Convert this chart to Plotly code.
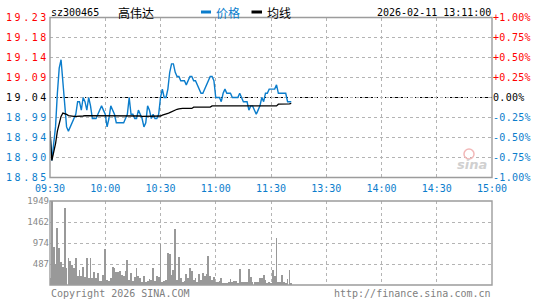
import plotly.graph_objects as go

prev_close = 19.04
code = "sz300465"
name = "高伟达"
stamp = "2026-02-11 13:11:00"
time_ticks = [0, 30, 60, 90, 120, 150, 180, 210, 240]
time_labels = ["09:30", "10:00", "10:30", "11:00", "11:30", "13:30", "14:00", "14:30", "15:00"]
pct_steps = [-1.0, -0.75, -0.5, -0.25, 0.0, 0.25, 0.5, 0.75, 1.0]
vol_ticks = [487.25, 974.5, 1461.75, 1949]
vol_labels = ["487", "974", "1462", "1949"]

price = [18.96, 18.89, 18.93, 18.97, 19.05, 19.11, 19.13, 19.08, 19.01, 18.97,
         18.96, 18.97, 18.98, 18.99, 19.00, 19.03, 19.03, 19.01, 19.04, 19.03,
         19.01, 19.04, 19.02, 18.99, 18.99, 18.99, 19.00, 19.01, 19.02, 19.01,
         19.00, 18.97, 18.99, 19.02, 19.01, 19.00, 18.98, 18.98, 18.98, 18.98,
         18.98, 18.99, 19.00, 19.04, 19.00, 19.00, 18.99, 18.99, 19.01, 19.00,
         18.99, 18.97, 18.98, 19.02, 19.01, 18.99, 19.00, 18.99, 18.99, 19.00,
         19.04, 19.06, 19.04, 19.04, 19.06, 19.10, 19.12, 19.12, 19.10, 19.09,
         19.09, 19.08, 19.08, 19.08, 19.07, 19.08, 19.09, 19.09, 19.08, 19.08,
         19.07, 19.06, 19.05, 19.05, 19.06, 19.07, 19.08, 19.09, 19.09, 19.08,
         19.04, 19.04, 19.04, 19.03, 19.05, 19.06, 19.05, 19.05, 19.05, 19.04,
         19.04, 19.04, 19.04, 19.05, 19.04, 19.03, 19.03, 19.03, 19.01, 19.02,
         19.02, 19.01, 19.00, 19.01, 19.02, 19.04, 19.03, 19.05, 19.05, 19.06,
         19.06, 19.06, 19.06, 19.07, 19.05, 19.05, 19.05, 19.05, 19.05, 19.03,
         19.03, 19.03]

avg = [18.960, 18.890, 18.910, 18.930, 18.960, 18.980, 18.995, 19.003, 19.002, 19.000,
       18.997, 18.996, 18.995, 18.995, 18.995, 18.995, 18.996, 18.996, 18.996, 18.997,
       18.997, 18.997, 18.997, 18.997, 18.997, 18.997, 18.997, 18.997, 18.997, 18.997,
       18.997, 18.997, 18.997, 18.997, 18.997, 18.997, 18.997, 18.997, 18.997, 18.997,
       18.996, 18.996, 18.996, 18.996, 18.996, 18.996, 18.996, 18.996, 18.996, 18.996,
       18.995, 18.995, 18.995, 18.995, 18.995, 18.995, 18.995, 18.995, 18.995, 18.995,
       18.996, 18.998, 18.999, 19.000, 19.002, 19.004, 19.006, 19.009, 19.010, 19.012,
       19.013, 19.014, 19.014, 19.014, 19.014, 19.014, 19.014, 19.014, 19.017, 19.017,
       19.017, 19.017, 19.017, 19.017, 19.017, 19.017, 19.017, 19.017, 19.020, 19.020,
       19.020, 19.020, 19.020, 19.020, 19.020, 19.020, 19.020, 19.020, 19.020, 19.020,
       19.020, 19.020, 19.020, 19.020, 19.020, 19.020, 19.020, 19.020, 19.020, 19.020,
       19.020, 19.020, 19.020, 19.020, 19.020, 19.020, 19.020, 19.020, 19.020, 19.020,
       19.020, 19.020, 19.020, 19.020, 19.024, 19.024, 19.024, 19.024, 19.024, 19.024,
       19.025, 19.026]

volume = [155, 1949, 889, 487, 1315, 866, 541, 425, 1794, 387,
          619, 565, 464, 387, 619, 217, 348, 217, 425, 186,
          619, 155, 619, 155, 309, 155, 271, 93, 93, 232,
          835, 116, 93, 155, 425, 402, 309, 294, 325, 232,
          217, 325, 580, 116, 271, 93, 193, 387, 209, 170,
          77, 201, 62, 93, 131, 116, 387, 93, 209, 193,
          951, 62, 93, 116, 735, 712, 232, 348, 1299, 116,
          642, 155, 62, 101, 247, 155, 387, 325, 116, 155,
          62, 255, 116, 271, 209, 255, 673, 209, 116, 193,
          77, 62, 93, 155, 31, 39, 31, 62, 131, 77,
          93, 93, 46, 371, 62, 62, 62, 62, 371, 193,
          62, 77, 77, 62, 155, 155, 232, 116, 46, 62,
          39, 348, 209, 1098, 62, 77, 232, 62, 54, 139,
          348, 31]

BLUE = "#0b7dcc"
RED = "#ff0000"
GRID = "#b4b4b4"
FRAME = "#9c9c9c"
MONO = "DejaVu Sans Mono"
W, H = 545, 300
L, R = 50 / W, 492 / W
P_TOP, P_BOT = 17.5, 177.5
V_TOP, V_BOT = 201, 285

t = list(range(len(price)))
lo, hi = prev_close * 0.99, prev_close * 1.01
price_ticks = [prev_close * (1 + s / 100) for s in pct_steps]


def col(s):
    return RED if s > 0 else ("#000000" if s == 0 else BLUE)


left_text = ['<span style="fill:%s;letter-spacing:2.6px">%.2f</span>' % (col(s), v)
             for s, v in zip(pct_steps, price_ticks)]
right_text = []
for s in pct_steps:
    lab = "%+.2f%%" % s if s != 0 else "0.00%"
    right_text.append('<span style="fill:%s;letter-spacing:0.3px">%s</span>' % (col(s), lab))

fig = go.Figure()
fig.add_trace(go.Scatter(x=t, y=price, mode="lines", line=dict(color=BLUE, width=1.4),
                         xaxis="x", yaxis="y", hoverinfo="skip", showlegend=False))
fig.add_trace(go.Scatter(x=t, y=avg, mode="lines", line=dict(color="#000000", width=1.3),
                         xaxis="x", yaxis="y", hoverinfo="skip", showlegend=False))
fig.add_trace(go.Scatter(x=t, y=[(p / prev_close - 1) * 100 for p in price], mode="lines",
                         opacity=0, xaxis="x", yaxis="y2", hoverinfo="skip", showlegend=False))
fig.add_trace(go.Bar(x=t, y=volume, width=0.45, marker=dict(color="#999999", line=dict(width=0)),
                     xaxis="x2", yaxis="y3", hoverinfo="skip", showlegend=False))

pdom = [1 - P_BOT / H, 1 - P_TOP / H]
vdom = [1 - V_BOT / H, 1 - V_TOP / H]
eps = 1e-6
xcommon = dict(range=[0, 240], tickvals=time_ticks, showgrid=True, gridcolor=GRID,
               griddash="dot", gridwidth=1, zeroline=False, showline=False, ticks="",
               domain=[L, R], fixedrange=True, automargin=False)

fig.update_layout(
    template="none",
    width=W, height=H, margin=dict(l=0, r=0, t=0, b=0, pad=0),
    paper_bgcolor="white", plot_bgcolor="white", bargap=0,
    xaxis=dict(**xcommon, anchor="y", ticktext=time_labels, ticklabelstandoff=3,
               tickfont=dict(family=MONO, size=10, color=BLUE)),
    xaxis2=dict(**xcommon, anchor="y3", showticklabels=False),
    yaxis=dict(domain=pdom, range=[lo - eps, hi + eps], tickvals=price_ticks, ticktext=left_text,
               tickfont=dict(family=MONO, size=10), showgrid=True, gridcolor=GRID, griddash="dot",
               zeroline=False, ticks="", anchor="x", automargin=False),
    yaxis2=dict(overlaying="y", side="right", range=[-1 - eps * 5, 1 + eps * 5], tickvals=pct_steps,
                ticktext=right_text, tickfont=dict(family=MONO, size=10), showgrid=False,
                zeroline=False, ticks="", anchor="x", automargin=False),
    yaxis3=dict(domain=vdom, range=[0, 1949 + 0.01], tickvals=vol_ticks, ticktext=vol_labels,
                tickfont=dict(family=MONO, size=9, color="#888888"), showgrid=True,
                gridcolor=GRID, griddash="dot", zeroline=False, ticks="", anchor="x2",
                automargin=False),
)

shapes = [
    dict(type="line", xref="x domain", yref="y", x0=0, x1=1, y0=prev_close, y1=prev_close,
         line=dict(color="#000000", width=1, dash="3px,2px"), layer="below"),
    dict(type="rect", xref="x domain", yref="y domain", x0=0, x1=1, y0=0, y1=1,
         line=dict(color=FRAME, width=1.4), layer="above"),
    dict(type="rect", xref="x2 domain", yref="y3 domain", x0=0, x1=1, y0=0, y1=1,
         line=dict(color=FRAME, width=1.4), layer="above"),
    dict(type="rect", xref="paper", yref="paper", x0=201 / W, x1=211 / W,
         y0=1 - 13.5 / H, y1=1 - 10.5 / H, fillcolor=BLUE, line=dict(width=0)),
    dict(type="rect", xref="paper", yref="paper", x0=251.5 / W, x1=262 / W,
         y0=1 - 13.5 / H, y1=1 - 10.5 / H, fillcolor="#000000", line=dict(width=0)),
    dict(type="circle", xref="paper", yref="paper", x0=464 / W, x1=474 / W,
         y0=1 - 159 / H, y1=1 - 149 / H, line=dict(color="#f2b8b8", width=1.5)),
]
fig.update_layout(shapes=shapes)


def ann(text, x, y, anchor="left", size=10, color="#000000", family=MONO):
    return dict(text=text, x=x / W, y=1 - y / H, xref="paper", yref="paper", xanchor=anchor,
                yanchor="middle", showarrow=False, font=dict(family=family, size=size, color=color))


CJK = "Noto Sans CJK SC"
fig.update_layout(annotations=[
    ann(code, 49, 12),
    ann(name, 116, 12, size=12, family=CJK),
    ann("价格", 214, 12, size=12, color=BLUE, family=CJK),
    ann("均线", 265, 12, size=12, family=CJK),
    ann(stamp, 493, 12, anchor="right"),
    ann("Copyright 2026 SINA.COM", 49, 293, color="#808080"),
    ann("http://finance.sina.com.cn", 493, 293, anchor="right", color="#808080"),
    ann("<b><i>sina</i></b>", 472, 164, anchor="center", size=13, color="#d0d0d0",
        family="DejaVu Sans"),
])

fig.write_html("out.html")
